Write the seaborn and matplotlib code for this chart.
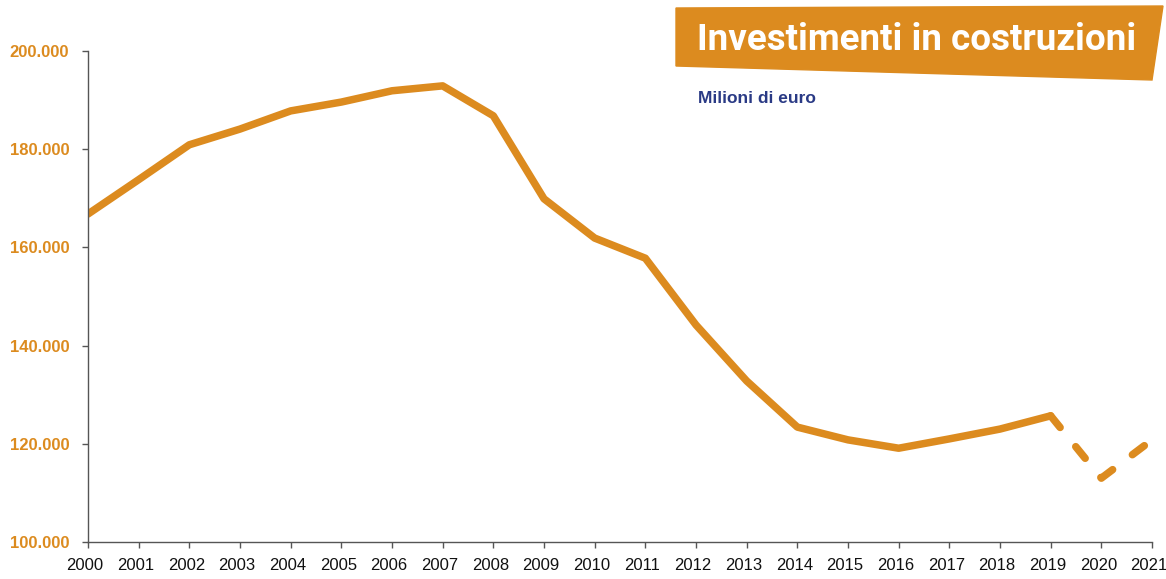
import matplotlib
matplotlib.use("Agg")
import matplotlib.pyplot as plt
import matplotlib.transforms as mtransforms
import seaborn as sns
import pandas as pd
from matplotlib.patches import Polygon
from matplotlib.ticker import FuncFormatter

years = list(range(2000, 2022))
values = [166.8, 173.8, 180.9, 184.1, 187.8, 189.6, 191.9, 192.9, 186.8, 169.9,
          161.9, 157.8, 144.2, 132.8, 123.4, 120.8, 119.1, 121.0, 123.0, 125.7,
          113.0, 120.8]
values = [v * 1000 for v in values]
split_year = 2019
title = "Investimenti in costruzioni"
subtitle = "Milioni di euro"

df = pd.DataFrame({"year": years, "value": values})
solid = df[df.year <= split_year]
dashed = df[df.year >= split_year]

sns.set_style("white")
plt.rcParams['font.family'] = ['Liberation Sans', 'DejaVu Sans']

orange = "#DC8B1F"
navy = "#2A3A85"

fig = plt.figure(figsize=(11.66, 5.79), dpi=100)
ax = fig.add_axes([88/1166, 37/579, (1152-88)/1166, (542-51)/579])

sns.lineplot(data=solid, x="year", y="value", ax=ax, color=orange, lw=5.4,
             solid_capstyle="round", solid_joinstyle="round")
sns.lineplot(data=dashed, x="year", y="value", ax=ax, color=orange, lw=5.4,
             dash_capstyle="round", dash_joinstyle="round", linestyle=(0, (2.0, 3.3)))

ax.set_xlim(2000, 2021)
ax.set_ylim(100000, 200000)
ax.set_xticks(years)
ax.set_yticks([100000, 120000, 140000, 160000, 180000, 200000])
ax.yaxis.set_major_formatter(FuncFormatter(lambda v, p: f"{int(v):,}".replace(",", ".")))
ax.set_xlabel("")
ax.set_ylabel("")
for s in ["top", "right"]:
    ax.spines[s].set_visible(False)
for s in ["left", "bottom"]:
    ax.spines[s].set_color("#555555")
    ax.spines[s].set_linewidth(1.0)
ax.tick_params(axis="both", direction="out", length=4.5, width=1, color="#555555",
               bottom=True, left=True)
ax.tick_params(axis="x", labelsize=12, labelcolor="#111111", pad=7)
ax.tick_params(axis="y", labelsize=12, labelcolor=orange, pad=9)
for lbl in ax.get_yticklabels():
    lbl.set_fontweight("bold")
shift = mtransforms.ScaledTranslation(-3/100, 0, fig.dpi_scale_trans)
for lbl in ax.get_xticklabels():
    lbl.set_transform(lbl.get_transform() + shift)

# title banner
poly = Polygon([[676/1166, 1 - 8/579], [1163/1166, 1 - 6/579],
                [1152/1166, 1 - 80/579], [676/1166, 1 - 66/579]],
               closed=True, transform=fig.transFigure, color=orange, zorder=5)
fig.patches.append(poly)
fig.text(697/1166, 1 - 40/579, title, transform=fig.transFigure, color="white",
         fontsize=26.5, fontweight="bold", family=["Roboto", "DejaVu Sans"],
         va="center", ha="left", zorder=6)
fig.text(698/1166, 1 - 99/579, subtitle, transform=fig.transFigure, color=navy,
         fontsize=12.5, va="center", ha="left", fontweight="bold",
         family=["Liberation Sans", "DejaVu Sans"])

fig.savefig("out.png", dpi=100)
